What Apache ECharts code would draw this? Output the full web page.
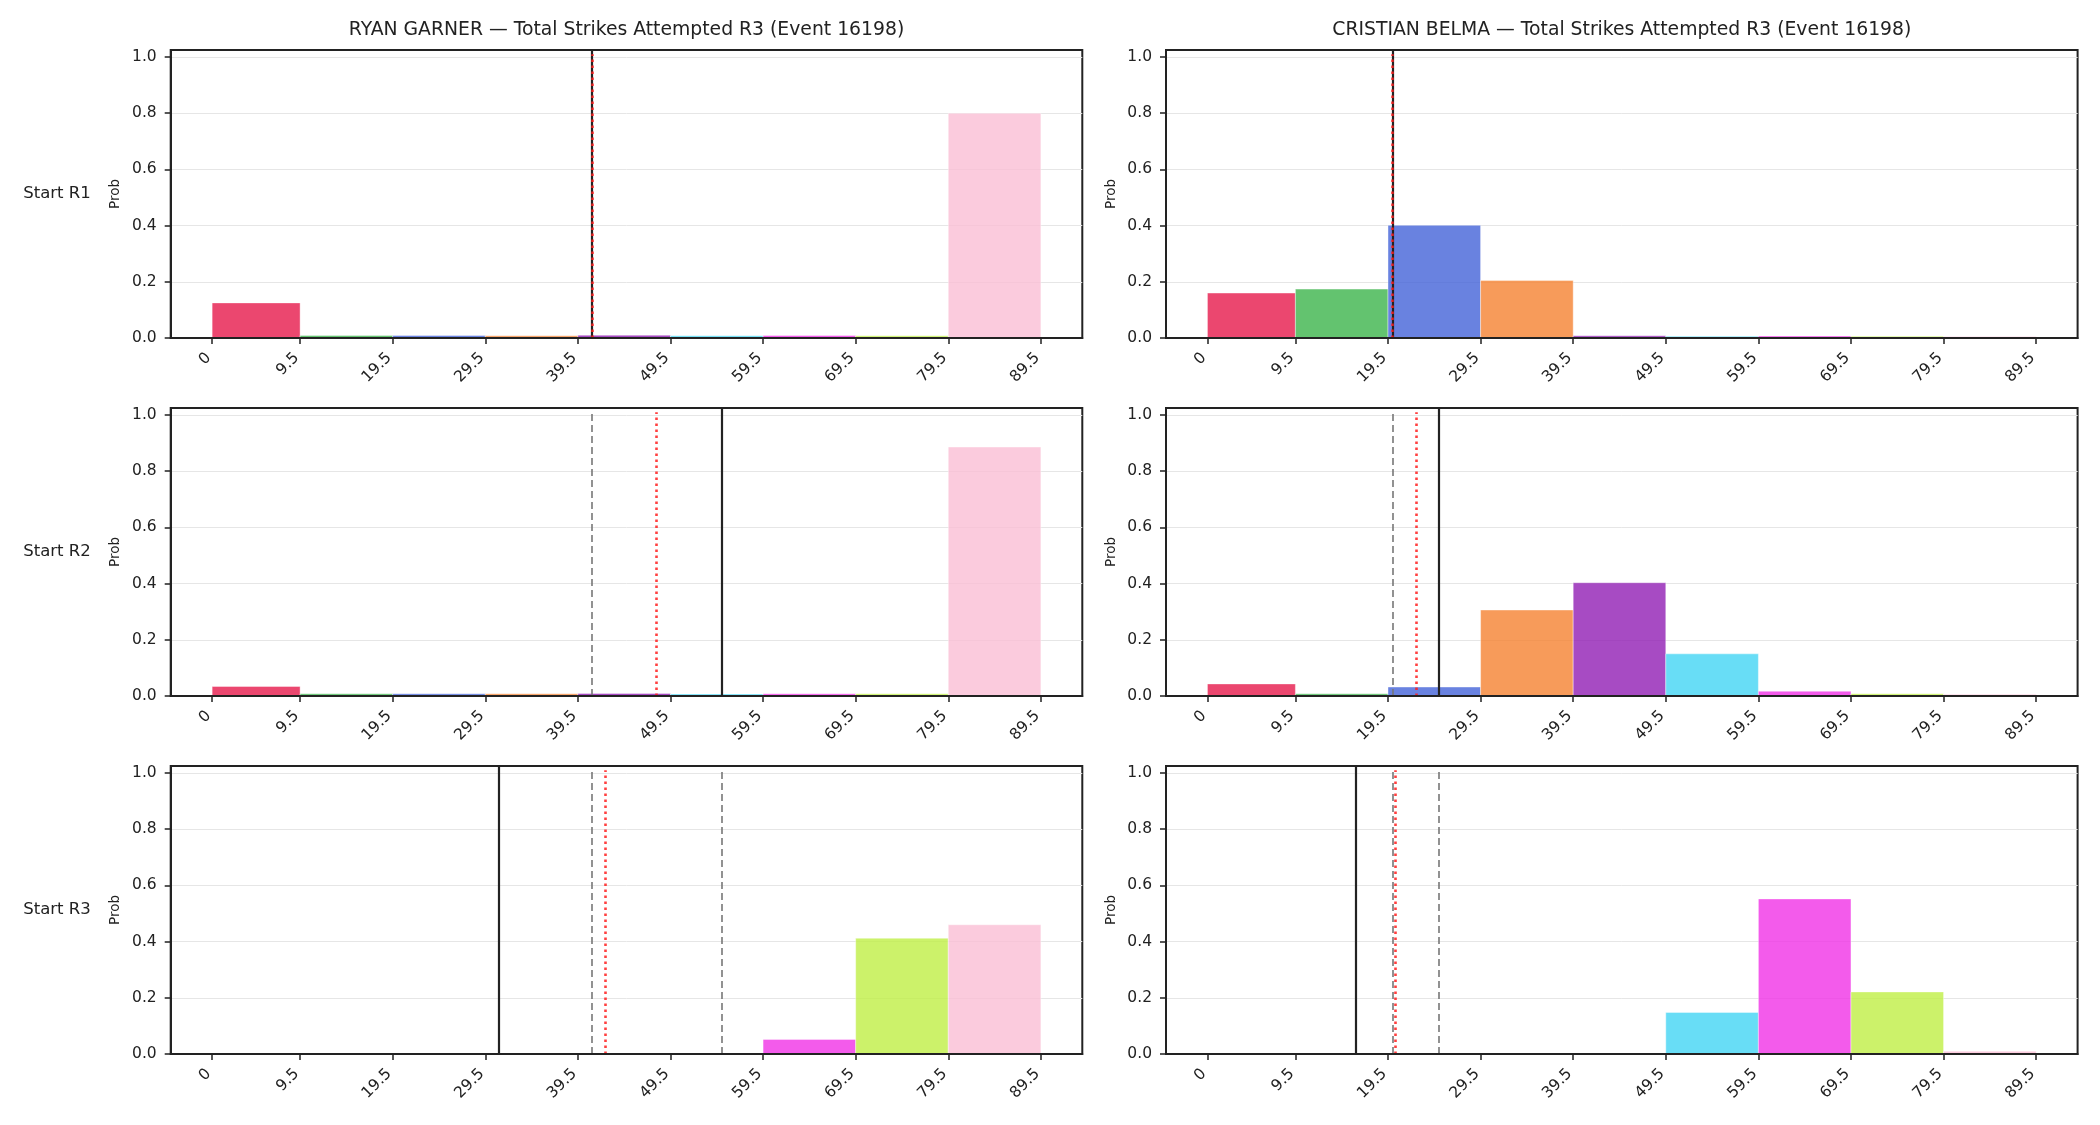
<!DOCTYPE html>
<html><head><meta charset="utf-8">
<script src="https://cdn.jsdelivr.net/npm/echarts@6/dist/echarts.min.js"></script>
<style>html,body{margin:0;padding:0;background:#fff}#c{width:2100px;height:1125px}</style>
</head><body><div id="c"></div>
<script>
// ---- data ----
const binEdges = [0, 9.5, 19.5, 29.5, 39.5, 49.5, 59.5, 69.5, 79.5, 89.5];
const yTicks = [0, 0.2, 0.4, 0.6, 0.8, 1.0];
const rowLabels = ['Start R1', 'Start R2', 'Start R3'];
const columnTitles = [
  'RYAN GARNER — Total Strikes Attempted R3 (Event 16198)',
  'CRISTIAN BELMA — Total Strikes Attempted R3 (Event 16198)'
];
const ryanR1 = [0.125, 0.009, 0.009, 0.008, 0.010, 0.008, 0.009, 0.008, 0.800];
const ryanR2 = [0.034, 0.008, 0.008, 0.008, 0.009, 0.007, 0.008, 0.008, 0.886];
const ryanR3 = [0.004, 0.003, 0.003, 0.003, 0.004, 0.003, 0.052, 0.412, 0.460];
const belmaR1 = [0.160, 0.174, 0.401, 0.205, 0.008, 0.006, 0.007, 0.006, 0.005];
const belmaR2 = [0.043, 0.008, 0.032, 0.306, 0.403, 0.150, 0.017, 0.008, 0.006];
const belmaR3 = [0.004, 0.003, 0.003, 0.004, 0.004, 0.148, 0.552, 0.221, 0.010];
const ryanSolid = [41, 55, 31];
const ryanDashed = [[], [41], [41, 55]];
const ryanDotted = [41, 48, 42.5];
const belmaSolid = [20, 25, 16];
const belmaDashed = [[], [20], [20, 25]];
const belmaDotted = [20, 22.5, 20.3];

// ---- styles / layout ----
const palette = ['#e6194b','#3cb44b','#4363d8','#f58231','#911eb4','#42d4f4','#f032e6','#bfef45','#fabed4'];
const FONT = 'DejaVu Sans';
const INK = '#222222';
const gridLefts = [170.7, 1166];
const gridWidth = 911.6;
const gridTops = [50, 408, 766];
const gridHeight = 288;
const xMin = -4.475, xMax = 93.975, yMax = 1.025;

function rgba(hex, a) {
  const n = parseInt(hex.slice(1), 16);
  return 'rgba(' + ((n >> 16) & 255) + ',' + ((n >> 8) & 255) + ',' + (n & 255) + ',' + a + ')';
}

const panels = [
  {vals: ryanR1, solid: ryanSolid[0], dashed: ryanDashed[0], dotted: ryanDotted[0]},
  {vals: belmaR1, solid: belmaSolid[0], dashed: belmaDashed[0], dotted: belmaDotted[0]},
  {vals: ryanR2, solid: ryanSolid[1], dashed: ryanDashed[1], dotted: ryanDotted[1]},
  {vals: belmaR2, solid: belmaSolid[1], dashed: belmaDashed[1], dotted: belmaDotted[1]},
  {vals: ryanR3, solid: ryanSolid[2], dashed: ryanDashed[2], dotted: ryanDotted[2]},
  {vals: belmaR3, solid: belmaSolid[2], dashed: belmaDashed[2], dotted: belmaDotted[2]}
];

const grid = [], xAxis = [], yAxis = [], series = [];
panels.forEach((p, k) => {
  const row = Math.floor(k / 2), col = k % 2;
  grid.push({left: gridLefts[col], top: gridTops[row], width: gridWidth, height: gridHeight,
    show: true, borderColor: INK, borderWidth: 2, backgroundColor: 'transparent', containLabel: false});
  xAxis.push({type: 'value', gridIndex: k, min: xMin, max: xMax, z: 10,
    splitLine: {show: false},
    axisLine: {show: true, onZero: false, lineStyle: {color: INK, width: 2}},
    axisTick: {show: true, customValues: binEdges, length: 6, lineStyle: {color: INK, width: 1.5}},
    axisLabel: {show: true, customValues: binEdges, rotate: 45, margin: 14, fontSize: 15.5,
      padding: [0, 5, 0, 0],
      fontFamily: FONT, color: INK, formatter: v => String(v)}
  });
  yAxis.push({type: 'value', gridIndex: k, min: 0, max: yMax, interval: 0.2,
    name: 'Prob', nameLocation: 'middle', nameRotate: 90, nameGap: 48,
    nameTextStyle: {fontSize: 13.5, fontFamily: FONT, color: INK},
    axisLine: {show: true, onZero: false, lineStyle: {color: INK, width: 2}},
    axisTick: {show: true, customValues: yTicks, length: 6, lineStyle: {color: INK, width: 1.5}},
    axisLabel: {show: true, customValues: yTicks, margin: 14, fontSize: 15.5, fontFamily: FONT,
      color: INK, formatter: v => v.toFixed(1)},
    splitLine: {show: true, lineStyle: {color: '#e6e6e6', width: 1}}
  });
  series.push({
    type: 'custom', xAxisIndex: k, yAxisIndex: k, z: 2, clip: true,
    encode: {x: [0, 1], y: 2},
    data: p.vals.map((v, i) => [binEdges[i], binEdges[i + 1], v]),
    renderItem: (params, api) => {
      const a = api.coord([api.value(0), api.value(2)]);
      const b = api.coord([api.value(1), 0]);
      return {type: 'rect', shape: {x: a[0], y: a[1], width: b[0] - a[0], height: b[1] - a[1]},
        style: {fill: rgba(palette[params.dataIndex], 0.8), stroke: 'rgba(255,255,255,0.8)', lineWidth: 0.5}};
    }
  });
  series.push({type: 'line', xAxisIndex: k, yAxisIndex: k, data: [], silent: true,
    markLine: {silent: true, symbol: ['none', 'none'], z: 5, animation: false, label: {show: false},
      lineStyle: {color: INK, width: 2.2, type: 'solid'},
      data: [[{coord: [p.solid, 0]}, {coord: [p.solid, yMax]}]]}});
  if (p.dashed.length) series.push({type: 'line', xAxisIndex: k, yAxisIndex: k, data: [], silent: true,
    markLine: {silent: true, symbol: ['none', 'none'], z: 6, animation: false, label: {show: false},
      lineStyle: {color: '#777777', width: 1.6, type: [7, 4]},
      data: p.dashed.map(x => [{coord: [x, 0]}, {coord: [x, 1.01]}])}});
  series.push({type: 'line', xAxisIndex: k, yAxisIndex: k, data: [], silent: true,
    markLine: {silent: true, symbol: ['none', 'none'], z: 7, animation: false, label: {show: false},
      lineStyle: {color: 'rgba(255,30,30,0.85)', width: 2.6, type: [2.6, 3.4]},
      data: [[{coord: [p.dotted, 0]}, {coord: [p.dotted, 1.01]}]]}});
});

const graphic = [];
columnTitles.forEach((t, c) => graphic.push({type: 'text', x: gridLefts[c] + gridWidth / 2, y: 30.5,
  style: {text: t, fontSize: 18.8, fontFamily: FONT, fill: INK, align: 'center', verticalAlign: 'middle'}}));
rowLabels.forEach((t, r) => graphic.push({type: 'text', x: 57, y: gridTops[r] + gridHeight / 2,
  style: {text: t, fontSize: 16.5, fontFamily: FONT, fill: INK, align: 'center', verticalAlign: 'middle'}}));

const chart = echarts.init(document.getElementById('c'), null, {renderer: 'canvas'});
chart.setOption({animation: false, backgroundColor: '#ffffff', grid, xAxis, yAxis, series, graphic});
</script></body></html>
